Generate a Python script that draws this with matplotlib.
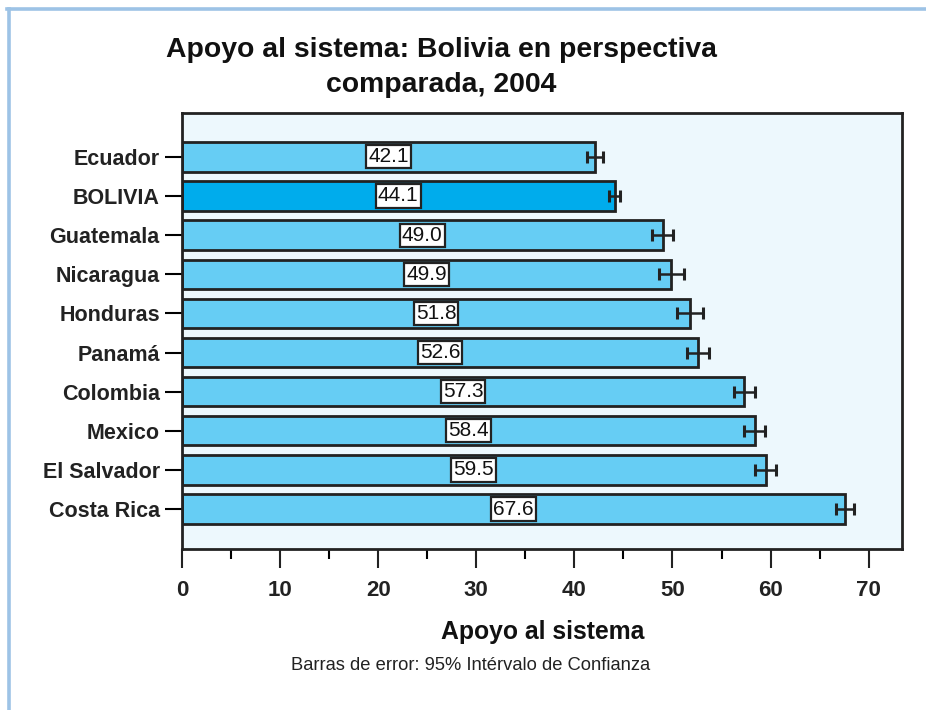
"""Apoyo al sistema: Bolivia en perspectiva comparada, 2004 (horizontal bars with 95% CI)."""

import matplotlib

matplotlib.use("Agg")
import matplotlib.pyplot as plt
from matplotlib.lines import Line2D
from matplotlib.ticker import MultipleLocator

countries = [
    "Ecuador",
    "BOLIVIA",
    "Guatemala",
    "Nicaragua",
    "Honduras",
    "Panamá",
    "Colombia",
    "Mexico",
    "El Salvador",
    "Costa Rica",
]
values = [42.1, 44.1, 49.0, 49.9, 51.8, 52.6, 57.3, 58.4, 59.5, 67.6]
ci_half = [0.8, 0.6, 1.1, 1.25, 1.3, 1.1, 1.07, 1.07, 1.07, 0.95]
highlight = "BOLIVIA"

BAR_LIGHT = "#66CDF4"
BAR_DARK = "#00ACEC"
PANEL_BG = "#EDF8FD"
EDGE = "#222222"
FRAME_BLUE = "#9DC3E6"

SANS = ["Liberation Sans", "DejaVu Sans"]

fig = plt.figure(figsize=(9.26, 7.10), dpi=100)
ax = fig.add_axes([182 / 926, 1 - 549 / 710, (902 - 182) / 926, (549 - 113) / 710])

# page frame (blue rule at top and left)
fig.add_artist(Line2D([7 / 926, 1.0], [1 - 9 / 710, 1 - 9 / 710], color=FRAME_BLUE, lw=2.6,
                      transform=fig.transFigure))
fig.add_artist(Line2D([8.5 / 926, 8.5 / 926], [0.0, 1 - 9 / 710], color=FRAME_BLUE, lw=2.6,
                      transform=fig.transFigure))

ypos = list(range(len(countries)))
colors = [BAR_DARK if c == highlight else BAR_LIGHT for c in countries]
ax.set_facecolor(PANEL_BG)
ax.barh(ypos, values, height=0.75, color=colors, edgecolor=EDGE, linewidth=2, zorder=2)
ax.errorbar(values, ypos, xerr=ci_half, fmt="none", ecolor=EDGE, elinewidth=1.8,
            capsize=4, capthick=2.2, zorder=3)

for y, v in zip(ypos, values):
    ax.text(v / 2, y, f"{v:.1f}", ha="center", va="center", fontsize=15, family=SANS,
            color="#111111", zorder=4,
            bbox=dict(boxstyle="square,pad=0.1", facecolor="white", edgecolor=EDGE, linewidth=1.6))

ax.set_xlim(0, 73.4)
ax.set_ylim(len(countries) - 1 + 1.02, -1.12)
ax.set_yticks(ypos)
ax.set_yticklabels(countries, fontsize=15.5, fontweight="bold", family=SANS, color="#222222")
ax.xaxis.set_major_locator(MultipleLocator(10))
ax.xaxis.set_minor_locator(MultipleLocator(5))
ax.tick_params(axis="x", which="major", direction="out", length=14, width=1.5, pad=8,
               labelsize=16, colors=EDGE)
ax.tick_params(axis="x", which="minor", direction="out", length=7, width=1.5)
ax.tick_params(axis="y", direction="out", length=12, width=1.5, pad=4)
for lbl in ax.get_xticklabels():
    lbl.set_fontweight("bold")
    lbl.set_family(SANS)
for side in ax.spines.values():
    side.set_linewidth(2)
    side.set_color(EDGE)

fig.text(441 / 926, 1 - 50 / 710, "Apoyo al sistema: Bolivia en perspectiva", ha="center",
         va="center", fontsize=20.4, fontweight="bold", family=SANS, color="#111111")
fig.text(441 / 926, 1 - 85 / 710, "comparada, 2004", ha="center", va="center", fontsize=20.4,
         fontweight="bold", family=SANS, color="#111111")
fig.text(543 / 926, 1 - 632 / 710, "Apoyo al sistema", ha="center", va="center", fontsize=17.8,
         fontweight="bold", family=SANS, color="#111111")
fig.text(471 / 926, 1 - 665 / 710, "Barras de error: 95% Intérvalo de Confianza", ha="center",
         va="center", fontsize=13.2, family=SANS, color="#222222")

fig.savefig("out.png", dpi=100, facecolor="white")
